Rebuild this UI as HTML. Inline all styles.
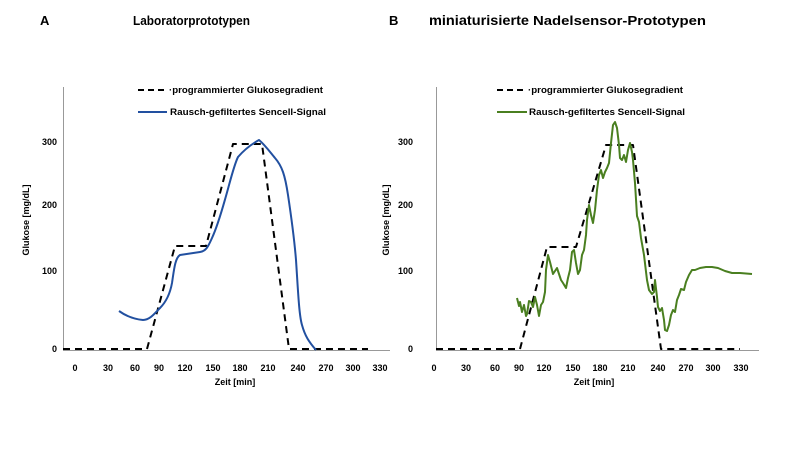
<!DOCTYPE html>
<html><head><style>body{margin:0;background:#fff}svg{display:block}text{font-family:"Liberation Sans",sans-serif;font-weight:bold}</style></head>
<body>
<svg width="800" height="450" viewBox="0 0 800 450">
<rect width="800" height="450" fill="#fff"/>
<text x="40" y="25" font-size="13">A</text>
<text x="133" y="25" font-size="13" textLength="117" lengthAdjust="spacingAndGlyphs">Laboratorprototypen</text>
<text x="389" y="25" font-size="13">B</text>
<text x="429" y="25" font-size="13.5" textLength="100" lengthAdjust="spacingAndGlyphs">miniaturisierte</text>
<text x="533" y="25" font-size="12.5" textLength="173" lengthAdjust="spacingAndGlyphs">Nadelsensor-Prototypen</text>

<g stroke="#999" stroke-width="1" fill="none">
<path d="M63.5 87V350.5H390"/>
<path d="M436.5 87V350.5H759"/>
</g>
<g font-size="9" text-anchor="middle">
<text x="75" y="371">0</text><text x="108" y="371">30</text><text x="135" y="371">60</text><text x="159" y="371">90</text><text x="185" y="371">120</text><text x="213" y="371">150</text><text x="240" y="371">180</text><text x="268" y="371">210</text><text x="298" y="371">240</text><text x="326" y="371">270</text><text x="353" y="371">300</text><text x="380" y="371">330</text>
<text x="434" y="371">0</text><text x="466" y="371">30</text><text x="495" y="371">60</text><text x="519" y="371">90</text><text x="544" y="371">120</text><text x="573" y="371">150</text><text x="600" y="371">180</text><text x="628" y="371">210</text><text x="658" y="371">240</text><text x="686" y="371">270</text><text x="713" y="371">300</text><text x="741" y="371">330</text>
<text x="235" y="385">Zeit [min]</text><text x="594" y="385">Zeit [min]</text>
</g>
<g font-size="9" text-anchor="end">
<text x="57" y="145">300</text><text x="57" y="208">200</text><text x="57" y="274">100</text><text x="57" y="352">0</text>
<text x="413" y="145">300</text><text x="413" y="208">200</text><text x="413" y="274">100</text><text x="413" y="352">0</text>
</g>
<text font-size="9" text-anchor="middle" transform="translate(29,220) rotate(-90)">Glukose [mg/dL]</text>
<text font-size="9" text-anchor="middle" transform="translate(389,220) rotate(-90)">Glukose [mg/dL]</text>

<g font-size="9">
<line x1="138" y1="90" x2="167" y2="90" stroke="#000" stroke-width="2" stroke-dasharray="6,4"/>
<text x="169" y="93" textLength="154" lengthAdjust="spacingAndGlyphs">·programmierter Glukosegradient</text>
<line x1="138" y1="112" x2="167" y2="112" stroke="#2250a0" stroke-width="2"/>
<text x="170" y="115" textLength="156" lengthAdjust="spacingAndGlyphs">Rausch-gefiltertes Sencell-Signal</text>
<line x1="497" y1="90" x2="526" y2="90" stroke="#000" stroke-width="2" stroke-dasharray="6,4"/>
<text x="528" y="93" textLength="155" lengthAdjust="spacingAndGlyphs">·programmierter Glukosegradient</text>
<line x1="497" y1="112" x2="527" y2="112" stroke="#4a7f20" stroke-width="2"/>
<text x="529" y="115" textLength="156" lengthAdjust="spacingAndGlyphs">Rausch-gefiltertes Sencell-Signal</text>
</g>

<g fill="none" stroke-width="2" stroke-linejoin="round">
<polyline stroke="#000" stroke-dasharray="7,5" points="63,349 147,349 175,246 206,246 233,144 262,144 289,349 368,349"/>
<polyline stroke="#000" stroke-dasharray="7,5" points="436,349 520,349 547,247 576,247 606,145 633,145 661,349 740,349"/>
<path stroke="#2250a0" d="M119,311 C126,316 133,319 143,320 C150,320 155,313 160,308 C166,302 170,294 172,283 C174,270 175,258 180,255 L200,252 C206,251 208,247 212,238 C218,225 222,210 226,196 C230,182 234,165 238,157 C244,150 250,145 259,140 C265,145 270,152 275,158 C282,166 285,175 288,195 C291,215 294,235 296,260 C298,290 299,315 302,325 C305,336 309,342 316,350"/>
<polyline stroke="#4a7f20" points="517,298 519,306 520,302 522,312 524,305 526,316 527,314 529,301 531,302 533,307 535,297 537,305 539,316 541,305 543,302 545,292 546,270 548,255 550,262 553,274 555,271 557,268 559,274 561,280 563,283 566,288 568,278 570,270 572,252 574,250 576,263 578,274 580,270 582,255 584,250 586,235 587,220 589,205 591,215 593,223 595,210 597,190 599,175 601,170 603,178 605,172 607,168 609,163 611,143 613,125 615,122 617,128 619,145 620,158 622,160 624,155 626,162 628,150 630,143 632,152 633,160 635,183 637,216 639,222 641,238 644,255 647,280 649,290 652,294 654,292 655,280 657,297 658,307 660,311 662,308 664,320 665,330 667,331 669,325 671,315 673,310 675,312 677,300 679,295 681,289 684,290 686,282 689,275 692,270 695,270 700,268 706,267 712,267 718,268 725,271 732,273 740,273 752,274"/>
</g>
</svg>
</body></html>
